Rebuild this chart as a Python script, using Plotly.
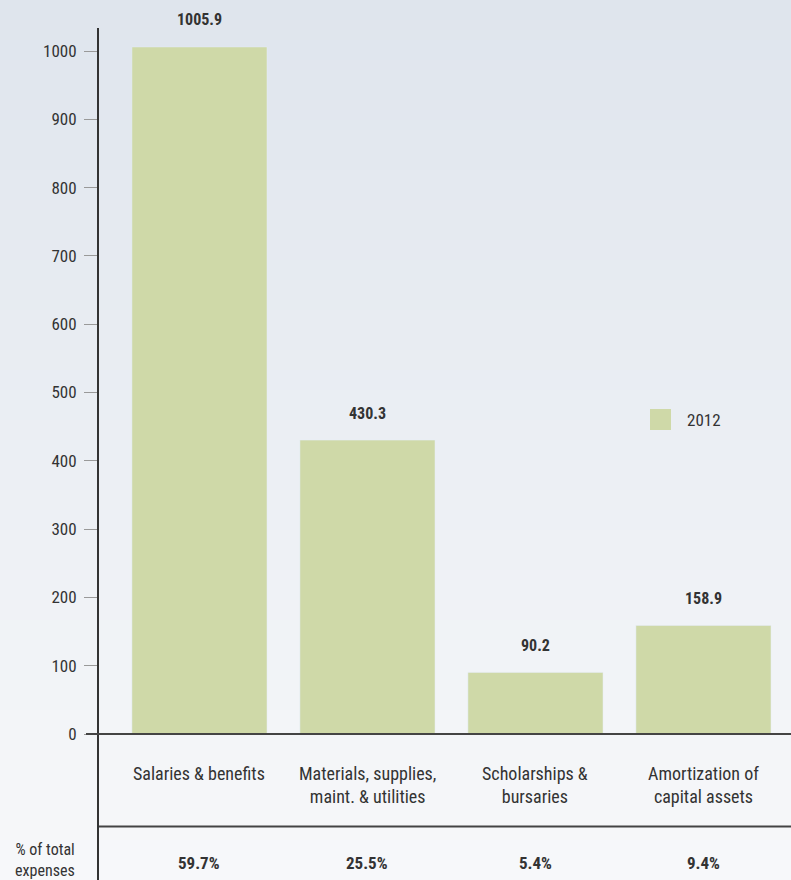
import plotly.graph_objects as go

categories = ["Salaries & benefits", "Materials, supplies,<br>maint. & utilities",
              "Scholarships &<br>bursaries", "Amortization of<br>capital assets"]
values = [1005.9, 430.3, 90.2, 158.9]
value_labels = ["1005.9", "430.3", "90.2", "158.9"]
pct_labels = ["59.7%", "25.5%", "5.4%", "9.4%"]
tick_vals = [0, 100, 200, 300, 400, 500, 600, 700, 800, 900, 1000]
series_name = "2012"

W, H = 791, 880
ML, MT = 99, 28
PW, PH = W - ML, H - MT

FONT = "Roboto Condensed, Liberation Sans Narrow, sans-serif"
TXT = "#333333"
BAR = "#cfd9a8"

def px_x(p):
    return (p - ML) / PW

def px_y(p):
    return (H - p) / PH

x_idx = list(range(len(categories)))

fig = go.Figure()
fig.add_trace(go.Bar(x=x_idx, y=values, marker_color=BAR, width=0.804,
                     name=series_name, showlegend=False, hoverinfo="y"))

shapes = []
# gradient background
N = 88
top = (223, 229, 237)
bot = (247, 248, 250)
for i in range(N):
    f = i / (N - 1)
    c = tuple(round(top[k] + (bot[k] - top[k]) * f) for k in range(3))
    y0 = i * H / N
    y1 = (i + 1) * H / N + 0.5
    shapes.append(dict(type="rect", xref="paper", yref="paper", layer="below",
                       x0=px_x(0), x1=1.0, y0=px_y(y1), y1=px_y(y0),
                       line_width=0, fillcolor="rgb(%d,%d,%d)" % c))
# zero baseline
shapes.append(dict(type="line", xref="paper", yref="y", x0=px_x(86), x1=1.0,
                   y0=0, y1=0, line=dict(color="#444444", width=2)))
# table separator line
shapes.append(dict(type="line", xref="paper", yref="paper", x0=0, x1=1.0,
                   y0=px_y(826.5), y1=px_y(826.5), line=dict(color="#444444", width=2)))
# legend swatch
shapes.append(dict(type="rect", xref="paper", yref="paper",
                   x0=px_x(650), x1=px_x(671), y0=px_y(430), y1=px_y(409),
                   line_width=0, fillcolor=BAR))

ann = []
for i, v in enumerate(values):
    ann.append(dict(x=i, y=v, xref="x", yref="y", text=value_labels[i], showarrow=False,
                    yanchor="middle", yshift=27, font=dict(family=FONT, size=16, color=TXT,
                                                            weight="bold")))
    ann.append(dict(x=i, y=px_y(761), xref="x", yref="paper", text=categories[i],
                    showarrow=False, yanchor="top", align="center",
                    font=dict(family=FONT, size=18, color=TXT)))
    ann.append(dict(x=i, y=px_y(863), xref="x", yref="paper", text=pct_labels[i],
                    showarrow=False, yanchor="middle",
                    font=dict(family=FONT, size=17, color=TXT, weight="bold")))
ann.append(dict(x=px_x(77), y=px_y(860), xref="paper", yref="paper",
                text="% of total<br>expenses", showarrow=False, xanchor="right",
                yanchor="middle", align="right",
                font=dict(family=FONT, size=16, color=TXT)))
ann.append(dict(x=px_x(685), y=px_y(419.5), xref="paper", yref="paper", text=series_name,
                showarrow=False, xanchor="left", yanchor="middle",
                font=dict(family=FONT, size=17, color=TXT)))

y_per_px = 100 / 68.3
y_lo = -(H - 734) * y_per_px
y_hi = (734 - MT) * y_per_px

fig.update_layout(
    width=W, height=H,
    margin=dict(l=ML, r=0, t=MT, b=0, pad=0),
    paper_bgcolor="rgb(235,239,244)",
    plot_bgcolor="rgba(0,0,0,0)",
    shapes=shapes, annotations=ann,
    bargap=0.196,
    xaxis=dict(range=[-0.598, 3.521], showticklabels=False, ticks="", showgrid=False,
               zeroline=False, showline=False, fixedrange=True),
    yaxis=dict(range=[y_lo, y_hi], tickvals=tick_vals, ticks="outside", ticklen=13,
               tickcolor="#999999", tickwidth=1, showgrid=False, zeroline=False,
               showline=True, linecolor="#333333", linewidth=2,
               tickfont=dict(family=FONT, size=17, color=TXT), ticklabelstandoff=4),
    showlegend=False,
)

fig.write_html("out.html", config={"displayModeBar": False},
               post_script="document.body.style.margin='0';")
